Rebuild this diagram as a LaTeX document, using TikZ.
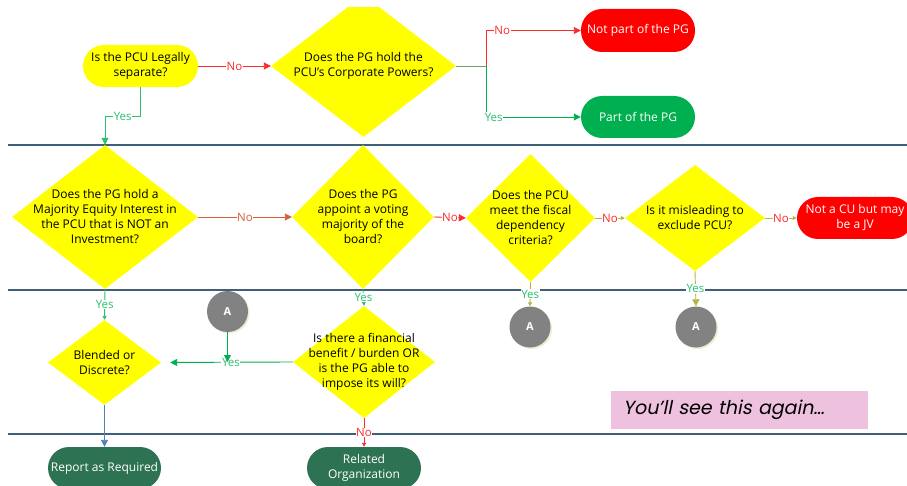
\documentclass[tikz,border=0pt]{standalone}
\usepackage{fontspec}
\setmainfont{Open Sans}
\newfontfamily\tagfont[FakeSlant=0.2]{Poppins}
\usetikzlibrary{shapes.geometric,arrows.meta,shadows}

\definecolor{sepblue}{HTML}{3E6078}
\definecolor{qyel}{HTML}{FFFF00}
\definecolor{endred}{HTML}{FF0000}
\definecolor{endgreen}{HTML}{00B050}
\definecolor{deepgreen}{HTML}{2E7254}
\definecolor{yesgreen}{HTML}{2CBF6E}
\definecolor{nored}{HTML}{FF2A2A}
\definecolor{rust}{HTML}{D2603A}
\definecolor{oliveline}{HTML}{B3B646}
\definecolor{steel}{HTML}{4F83B0}
\definecolor{junc}{HTML}{6F9F6F}
\definecolor{pinkbox}{HTML}{EEC2DF}
\definecolor{agray}{HTML}{828282}

\begin{document}
\begin{tikzpicture}[x=1pt,y=-1pt,
  sepline/.style={draw=sepblue, line width=1.3pt},
  q/.style={diamond, fill=qyel, draw=none, inner sep=0pt},
  qt/.style={align=center, text=black, font=\fontsize{12}{15}\selectfont},
  term/.style={rounded corners=21pt, minimum width=114pt, minimum height=42pt,
    inner sep=0pt, align=center, text=white, font=\fontsize{12}{15}\selectfont},
  conn/.style={line width=0.9pt, -{Triangle[length=7pt,width=7pt]}},
  smallconn/.style={line width=0.9pt, -{Triangle[length=4pt,width=4pt]}},
  lab/.style={fill=white, inner sep=0.6pt, font=\fontsize{11.5}{13}\selectfont},
  conA/.style={circle, fill=agray, minimum size=41pt, inner sep=0pt, text=white,
    font=\bfseries\fontsize{11}{13}\selectfont,
    drop shadow={shadow xshift=1.5pt, shadow yshift=-1.5pt, fill=oliveline, opacity=0.25}}
]
\useasboundingbox (0,0) rectangle (907,486);
\clip (0,8) rectangle (907,486);

% lane separators
\foreach \yy in {145,290,434}
  \draw[sepline] (8,\yy) -- (907,\yy);

% first lane
\node[term, fill=qyel, text=black, minimum width=115pt] (n1) at (140.5,66) {Is the PCU Legally\\separate?};
\node[q, minimum width=185pt, minimum height=142pt,
  label={[qt]center:{Does the PG hold the\\PCU’s Corporate Powers?}}] (d2) at (363.5,66) {};
\node[term, fill=endred, minimum height=43pt] (np) at (638,30.5) {Not part of the PG};
\node[term, fill=endgreen] (pp) at (638,117) {Part of the PG};

% second lane
\node[q, minimum width=186pt, minimum height=144pt,
  label={[qt]center:{Does the PG hold a\\Majority Equity Interest in\\the PCU that is NOT an\\Investment?}}] (d1) at (105,217) {};
\node[q, minimum width=142pt, minimum height=144pt,
  label={[qt]center:{Does the PG\\appoint a voting\\majority of the\\board?}}] (d3) at (363,217) {};
\node[q, minimum width=129pt, minimum height=128pt,
  label={[qt]center:{Does the PCU\\meet the fiscal\\dependency\\criteria?}}] (d4) at (530.5,218) {};
\node[q, minimum width=140pt, minimum height=106pt,
  label={[qt]center:{Is it misleading to\\exclude PCU?}}] (d5) at (695,218) {};
\node[term, fill=endred, minimum width=116pt] (jv) at (855,218) {Not a CU but may\\be a JV};

% third lane
\node[q, minimum width=113pt, minimum height=85pt,
  label={[qt]center:{Blended or\\Discrete?}}] (bl) at (104.5,362.5) {};
\node[q, minimum width=142pt, minimum height=112pt,
  label={[qt]center:{Is there a financial\\benefit / burden OR\\is the PG able to\\impose its will?}}] (fb) at (364,362) {};
\node[conA] (a1) at (227.5,311.5) {A};
\node[conA] (a2) at (530,327) {A};
\node[conA] (a3) at (696,327) {A};
\node[fill=pinkbox, minimum width=257pt, minimum height=38pt, text width=233pt,
  inner xsep=0pt, align=left, font=\tagfont\fontsize{19}{21}\selectfont] (note) at (739.5,410) {You’ll see this again…};

% outcomes
\node[term, fill=deepgreen, minimum width=113pt] (rep) at (104.5,468) {Report as Required};
\node[term, fill=deepgreen] (rel) at (364,468) {Related\\Organization};

% connectors, first lane
\draw[conn, nored] (n1.east) -- node[lab, text=nored]{No} (d2.west);
\draw[conn, yesgreen] (n1.south) -- ++(0,29) -| node[lab, text=yesgreen, pos=0.25]{Yes} (d1.north);
\draw[line width=0.9pt, junc] (d2.east) -- ++(30,0) coordinate (split);
\draw[conn, nored] (split) |- node[lab, text=nored, pos=0.585]{No} (np.west);
\draw[conn, endgreen] (split) |- node[lab, text=yesgreen, pos=0.54]{Yes} (pp.west);

% connectors, second lane
\draw[conn, rust] (d1.east) -- node[lab, text=rust]{No} (d3.west);
\draw[conn, nored] (d3.east) -- node[lab, text=nored]{No} (d4.west);
\draw[smallconn, oliveline] (d4.east) -- node[lab, text=nored]{No} (d5.west);
\draw[smallconn, oliveline] (d5.east) -- node[lab, text=nored]{No} (jv.west);

% connectors, third lane
\draw[smallconn, yesgreen] (d1.south) -- node[lab, text=yesgreen]{Yes} (bl.north);
\draw[conn, steel] (bl.south) -- (rep.north);
\draw[smallconn, yesgreen] (d3.south) -- node[lab, text=yesgreen]{Yes} (fb.north);
\draw[conn, endgreen, shorten >=9pt] (fb.west) -- node[lab, text=yesgreen, pos=0.47]{Yes} (bl.east);
\draw[conn, endgreen] (a1.south) -- (a1.south |- fb.west);
\draw[smallconn, nored] (fb.south) -- node[lab, text=nored]{No} (rel.north);
\draw[smallconn, oliveline] (d4.south) -- node[lab, text=yesgreen]{Yes} (a2.north);
\draw[conn, oliveline] (d5.south) -- node[lab, text=yesgreen]{Yes} (a3.north);
\end{tikzpicture}
\end{document}
